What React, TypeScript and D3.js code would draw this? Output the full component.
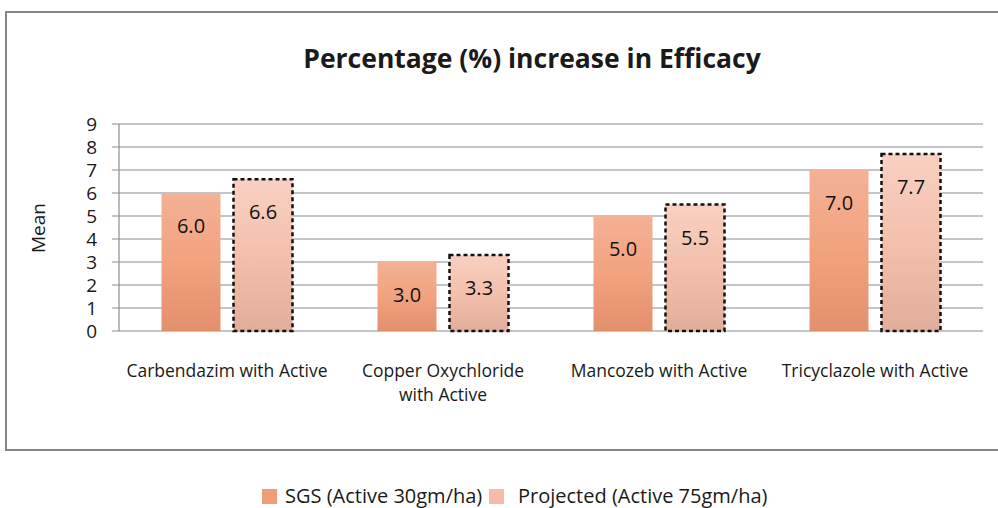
import { useEffect, useRef } from 'react';
import * as d3 from 'd3';

const categories = [
  ['Carbendazim with Active'],
  ['Copper Oxychloride', 'with Active'],
  ['Mancozeb with Active'],
  ['Tricyclazole with Active'],
];
const sgsValues = [6.0, 3.0, 5.0, 7.0];
const projectedValues = [6.6, 3.3, 5.5, 7.7];
const seriesNames = ['SGS (Active 30gm/ha)', 'Projected (Active 75gm/ha)'];
const yTicks = [0, 1, 2, 3, 4, 5, 6, 7, 8, 9];

const FONT = "'Open Sans', 'Noto Sans', sans-serif";

export default function App() {
  const svgRef = useRef<SVGSVGElement>(null);

  useEffect(() => {
    if (!svgRef.current) return;
    const svg = d3.select(svgRef.current);
    svg.selectAll('*').remove();

    const width = 998;
    const height = 508;
    const left = 119;
    const right = 983;
    const top = 124;
    const bottom = 331;

    const defs = svg.append('defs');
    const g1 = defs.append('linearGradient').attr('id', 'gSgs').attr('x1', 0).attr('y1', 0).attr('x2', 0).attr('y2', 1);
    g1.append('stop').attr('offset', '0%').attr('stop-color', '#f4b196');
    g1.append('stop').attr('offset', '50%').attr('stop-color', '#f2a27e');
    g1.append('stop').attr('offset', '100%').attr('stop-color', '#e28f6d');
    const g2 = defs.append('linearGradient').attr('id', 'gProj').attr('x1', 0).attr('y1', 0).attr('x2', 0).attr('y2', 1);
    g2.append('stop').attr('offset', '0%').attr('stop-color', '#f9d0c2');
    g2.append('stop').attr('offset', '50%').attr('stop-color', '#f3c0ad');
    g2.append('stop').attr('offset', '100%').attr('stop-color', '#e2ae9c');

    svg.append('rect').attr('width', width).attr('height', height).attr('fill', 'white');

    // outer frame
    svg
      .append('rect')
      .attr('x', 6)
      .attr('y', 12)
      .attr('width', 1010)
      .attr('height', 438)
      .attr('fill', 'white')
      .attr('stroke', '#858585')
      .attr('stroke-width', 2);

    svg
      .append('text')
      .attr('x', 532)
      .attr('y', 68)
      .attr('text-anchor', 'middle')
      .attr('font-family', FONT)
      .attr('font-weight', 'bold')
      .attr('font-size', 26.5)
      .attr('fill', '#1a1a1a')
      .text('Percentage (%) increase in Efficacy');

    const x = d3.scaleBand<number>().domain(d3.range(categories.length)).range([left, right]);
    const y = d3.scaleLinear().domain([0, 9]).range([bottom, top]);

    // gridlines
    svg
      .append('g')
      .selectAll('line')
      .data(yTicks)
      .join('line')
      .attr('x1', left - 7)
      .attr('x2', right)
      .attr('y1', d => y(d))
      .attr('y2', d => y(d))
      .attr('stroke', '#8c8c8c')
      .attr('stroke-width', 1.2);

    svg
      .append('line')
      .attr('x1', left)
      .attr('x2', left)
      .attr('y1', top)
      .attr('y2', bottom)
      .attr('stroke', '#8c8c8c')
      .attr('stroke-width', 1.2);

    svg
      .append('g')
      .selectAll('text')
      .data(yTicks)
      .join('text')
      .attr('x', 97)
      .attr('y', d => y(d))
      .attr('dy', '0.36em')
      .attr('text-anchor', 'end')
      .attr('font-family', FONT)
      .attr('font-size', 19)
      .attr('fill', '#1a1a1a')
      .text(d => d);

    svg
      .append('text')
      .attr('transform', `translate(45, 228) rotate(-90)`)
      .attr('text-anchor', 'middle')
      .attr('font-family', FONT)
      .attr('font-size', 19)
      .attr('fill', '#1a1a1a')
      .text('Mean');

    const barW = 59;
    const gap = 13;
    const series = [
      { values: sgsValues, fill: 'url(#gSgs)', dashed: false },
      { values: projectedValues, fill: 'url(#gProj)', dashed: true },
    ];

    series.forEach((s, si) => {
      s.values.forEach((v, i) => {
        const cx = (x(i) ?? 0) + x.bandwidth() / 2;
        const bx = si === 0 ? cx - gap / 2 - barW : cx + gap / 2;
        const r = svg
          .append('rect')
          .attr('x', bx)
          .attr('y', y(v))
          .attr('width', barW)
          .attr('height', y(0) - y(v))
          .attr('fill', s.fill);
        if (s.dashed) {
          r.attr('stroke', '#111')
            .attr('stroke-width', 2.5)
            .attr('stroke-dasharray', '4,3');
        }
        svg
          .append('text')
          .attr('x', bx + barW / 2)
          .attr('y', y(v) + 33)
          .attr('dy', '0.36em')
          .attr('text-anchor', 'middle')
          .attr('font-family', FONT)
          .attr('font-size', 20)
          .attr('fill', '#111')
          .text(v.toFixed(1));
      });
    });

    // category labels
    categories.forEach((lines, i) => {
      const cx = (x(i) ?? 0) + x.bandwidth() / 2;
      lines.forEach((ln, li) => {
        svg
          .append('text')
          .attr('x', cx)
          .attr('y', 377 + li * 24)
          .attr('text-anchor', 'middle')
          .attr('font-family', FONT)
          .attr('font-size', 17.5)
          .attr('fill', '#1a1a1a')
          .text(ln);
      });
    });

    // legend
    const legend = [
      { name: seriesNames[0], color: '#f09c76', sx: 262, tx: 285 },
      { name: seriesNames[1], color: '#f5bba6', sx: 489, tx: 518 },
    ];
    legend.forEach(l => {
      svg.append('rect').attr('x', l.sx).attr('y', 489).attr('width', 15).attr('height', 15).attr('fill', l.color);
      svg
        .append('text')
        .attr('x', l.tx)
        .attr('y', 503)
        .attr('font-family', FONT)
        .attr('font-size', 20)
        .attr('fill', '#1a1a1a')
        .text(l.name);
    });
  }, []);

  return (
    <svg
      ref={svgRef}
      width={998}
      height={508}
      style={{ position: 'absolute', left: 0, top: 0, display: 'block' }}
    ></svg>
  );
}
